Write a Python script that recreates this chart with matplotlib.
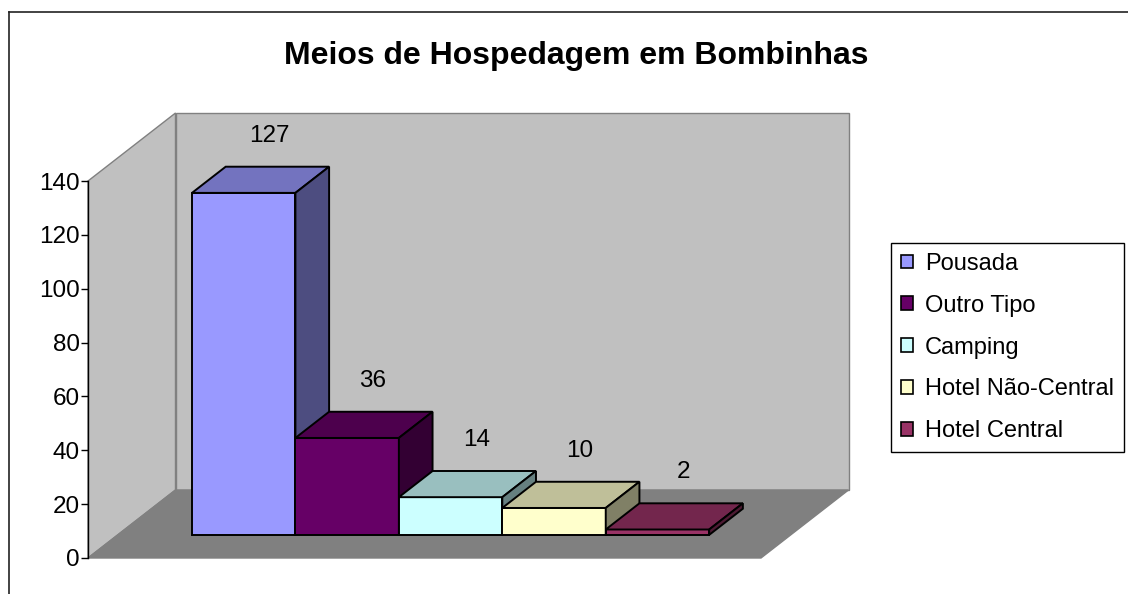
import matplotlib
matplotlib.use("Agg")
import matplotlib.pyplot as plt
import matplotlib.colors as mcolors
from matplotlib.patches import Polygon, Patch
from matplotlib.lines import Line2D

plt.rcParams['font.family'] = ['Liberation Sans', 'DejaVu Sans']

# ---- data ----
title = "Meios de Hospedagem em Bombinhas"
series = ["Pousada", "Outro Tipo", "Camping", "Hotel Não-Central", "Hotel Central"]
values = [127, 36, 14, 10, 2]
colors = ["#9999FF", "#660066", "#CCFFFF", "#FFFFCC", "#993366"]
yticks = [0, 20, 40, 60, 80, 100, 120, 140]

# ---- geometry (style) ----
W, H = 1128, 594
fig = plt.figure(figsize=(W / 100, H / 100), dpi=100)
ax = fig.add_axes([88 / W, (H - 558) / H, 673 / W, 377 / H])
ymax = 140
ax.set_xlim(0, 1)
ax.set_ylim(0, ymax)
px_per_unit = 377 / ymax
DX = 87.5 / 673          # depth offset in x units
DY = 68 / px_per_unit    # depth offset in value units
Z0, Z1 = 0.34, 0.725     # bar depth range
X0, BW = 0.1103, 0.1537  # bar start and width


def P(x, v, z):
    return (x + z * DX, v + z * DY)


def poly(pts, fc, ec, lw, zo):
    ax.add_patch(Polygon(pts, closed=True, facecolor=fc, edgecolor=ec,
                         linewidth=lw, clip_on=False, zorder=zo, joinstyle='miter'))


wall_c, floor_c, wall_ec = "#C0C0C0", "#808080", "#808080"
# back wall
poly([P(0, 0, 1), P(1, 0, 1), P(1, ymax, 1), P(0, ymax, 1)], wall_c, wall_ec, 1.0, 1)
# left wall
poly([P(0, 0, 0), P(0, ymax, 0), P(0, ymax, 1), P(0, 0, 1)], wall_c, wall_ec, 1.0, 1)
# floor
poly([P(0, 0, 0), P(1, 0, 0), P(1, 0, 1), P(0, 0, 1)], floor_c, wall_ec, 1.0, 1)


def shade(c, f):
    r, g, b = mcolors.to_rgb(c)
    return (r * f, g * f, b * f)


for i, (v, c) in enumerate(zip(values, colors)):
    xl = X0 + i * BW
    xr = xl + BW
    zo = 3 + i
    poly([P(xl, 0, Z0), P(xr, 0, Z0), P(xr, v, Z0), P(xl, v, Z0)], c, "black", 1.4, zo)
    poly([P(xl, v, Z0), P(xr, v, Z0), P(xr, v, Z1), P(xl, v, Z1)], shade(c, 0.75), "black", 1.4, zo)
    poly([P(xr, 0, Z0), P(xr, 0, Z1), P(xr, v, Z1), P(xr, v, Z0)], shade(c, 0.5), "black", 1.4, zo)
    ax.annotate(str(v), xy=P((xl + xr) / 2, v, Z1), xytext=(-8, 31),
                textcoords='offset pixels', ha='center', va='center',
                fontsize=17.5, color='black', zorder=20, annotation_clip=False)

# axes styling
for s in ['top', 'right', 'bottom']:
    ax.spines[s].set_visible(False)
ax.spines['left'].set_color('black')
ax.spines['left'].set_linewidth(1.0)
ax.spines['left'].set_zorder(2)
ax.set_xticks([])
ax.set_yticks(yticks)
ax.set_yticklabels([str(t) for t in yticks])
ax.tick_params(axis='y', direction='out', length=5, width=1.0, color='black',
               labelsize=17.5, pad=1)
ax.patch.set_visible(False)

# title
fig.text(576 / W, 1 - 56 / H, title, ha='center', va='center',
         fontsize=23, fontweight='bold')

# legend
handles = [Patch(facecolor=c, edgecolor='black', linewidth=1.2) for c in colors]
leg = fig.legend(handles, series, loc='upper left',
                 bbox_to_anchor=(891 / W, 1 - 243 / H),
                 bbox_transform=fig.transFigure, borderaxespad=0,
                 fontsize=17, frameon=True, fancybox=False,
                 edgecolor='black', framealpha=1, borderpad=0.42,
                 labelspacing=0.84, handlelength=0.52, handleheight=0.52,
                 handletextpad=0.5)
leg.get_frame().set_linewidth(1.0)

# figure border (chart area)
fig.add_artist(Line2D([8.5 / W, 8.5 / W], [0, 1 - 11.5 / H], transform=fig.transFigure,
                      color='#222222', linewidth=1.2))
fig.add_artist(Line2D([8.5 / W, 1], [1 - 11.5 / H, 1 - 11.5 / H], transform=fig.transFigure,
                      color='#222222', linewidth=1.2))

fig.savefig("out.png", dpi=100)
